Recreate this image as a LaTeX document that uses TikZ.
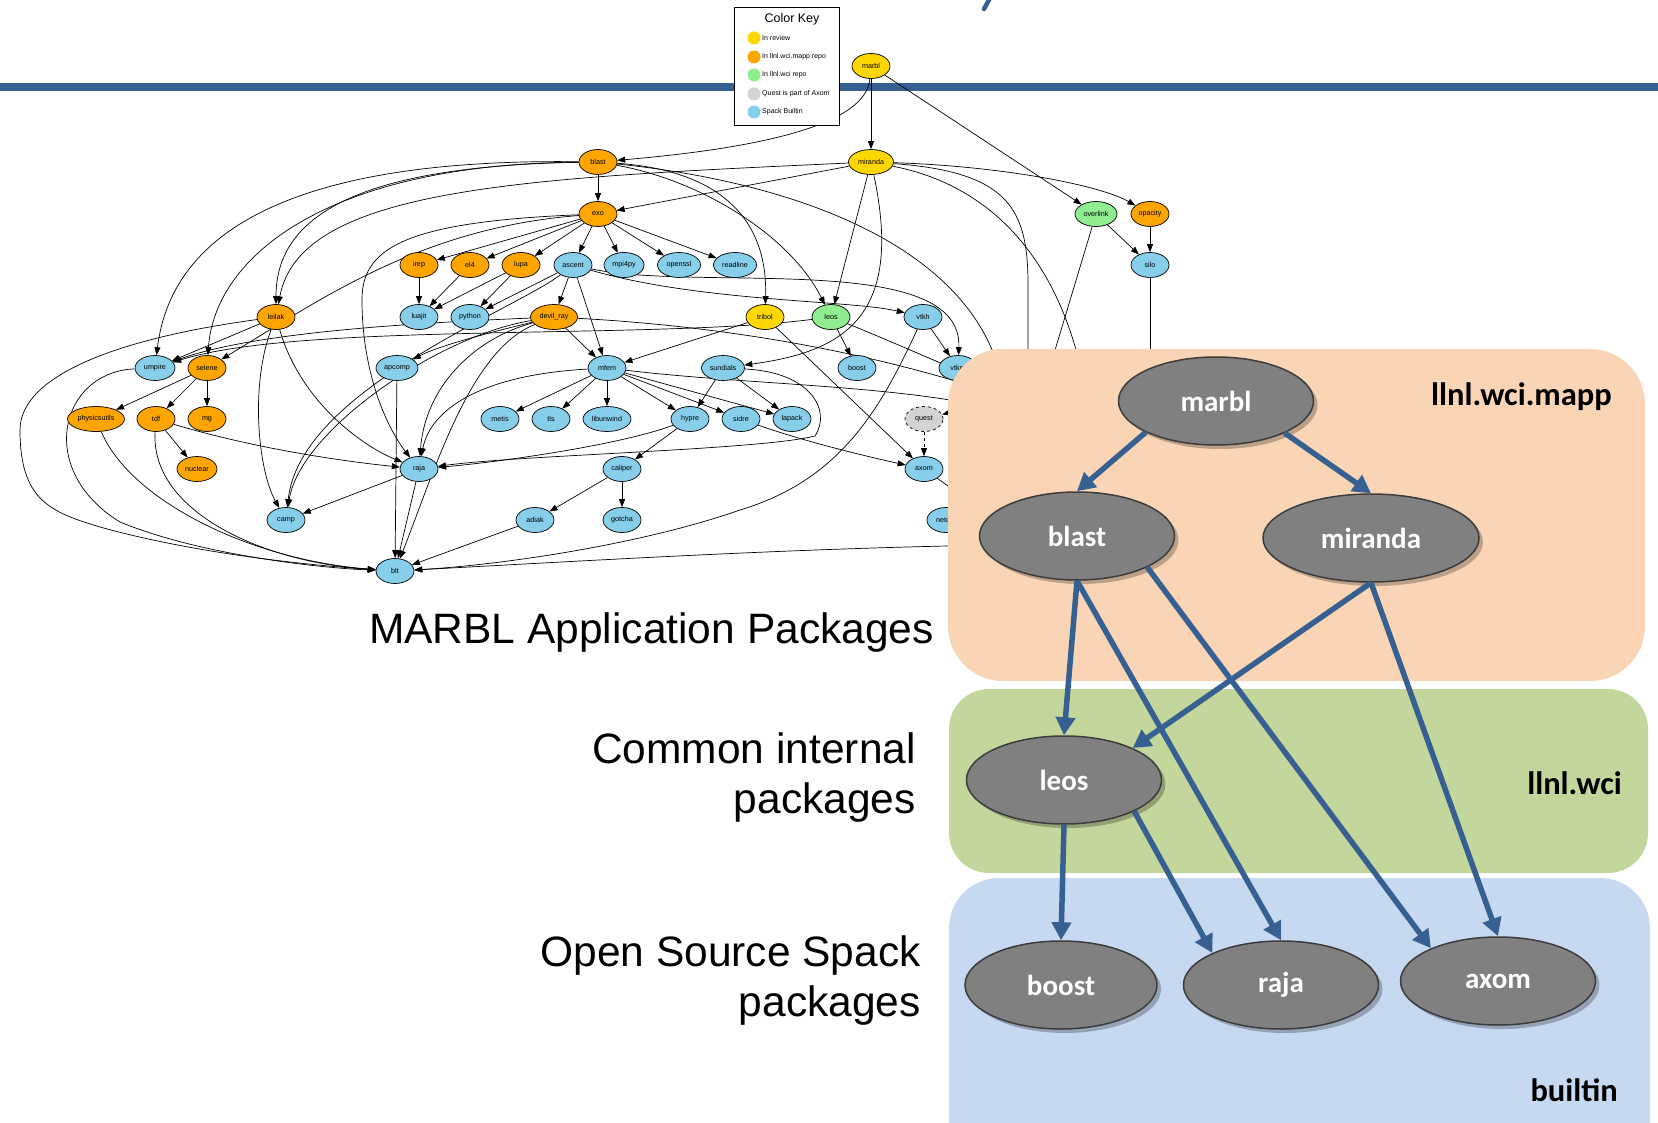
\documentclass[tikz,border=0pt]{standalone}
\usepackage{fontspec}
\setmainfont{Liberation Sans}
\newfontfamily\carl{Carlito}
\usetikzlibrary{shapes.geometric,arrows.meta,shadows}
\definecolor{gvgold}{RGB}{255,215,0}
\definecolor{gvorange}{RGB}{255,165,0}
\definecolor{gvgreen}{RGB}{144,238,144}
\definecolor{gvgray}{RGB}{211,211,211}
\definecolor{gvblue}{RGB}{135,206,235}
\definecolor{barblue}{RGB}{54,96,146}
\definecolor{peach}{RGB}{250,213,181}
\definecolor{sage}{RGB}{195,214,155}
\definecolor{paleblue}{RGB}{198,217,241}
\definecolor{bignode}{RGB}{128,128,128}
\definecolor{bigborder}{RGB}{60,60,60}
\pgfdeclarelayer{bg}
\pgfdeclarelayer{edges}
\pgfdeclarelayer{over}
\pgfsetlayers{bg,edges,main,over}
\begin{document}
\begin{tikzpicture}[x=1pt,y=-1pt,
  pkg/.style={ellipse,draw=black,line width=0.7pt,minimum width=38pt,minimum height=25pt,inner sep=0pt,font=\fontsize{7.2}{8}\selectfont},
  rev/.style={pkg,fill=gvgold},
  mapp/.style={pkg,fill=gvorange},
  wci/.style={pkg,fill=gvgreen},
  axq/.style={pkg,fill=gvgray,dashed},
  spk/.style={pkg,fill=gvblue},
  dep/.style={line width=0.7pt,-{Triangle[length=8pt,width=6pt]}},
  ln/.style={line width=0.7pt},
  keydot/.style={circle,minimum size=13pt,inner sep=0pt},
  keytxt/.style={anchor=west,inner sep=0pt,font=\fontsize{7}{8}\selectfont},
  big/.style={ellipse,draw=bigborder,line width=1.5pt,fill=bignode,minimum width=195pt,minimum height=88pt,inner sep=0pt,text=white,font=\carl\bfseries\fontsize{29}{30}\selectfont,drop shadow={shadow xshift=4pt,shadow yshift=-4pt,opacity=0.25,fill=black}},
  bigdep/.style={draw=barblue,line width=5.5pt,-{Triangle[length=18pt,width=19pt,fill=barblue]}},
  grp/.style={inner sep=0pt,font=\carl\bfseries\fontsize{32.5}{34}\selectfont},
  lab/.style={inner sep=0pt,align=right,font=\fontsize{42.5}{50}\selectfont}
]
\useasboundingbox (0,0) rectangle (1658,1123);
\begin{pgfonlayer}{bg}
\fill[white] (0,0) rectangle (1658,1123);
\fill[barblue] (0,83) rectangle (1658,91);
\draw[barblue,line width=4.5pt,line cap=round] (990,-2) -- (984,9);
\end{pgfonlayer}

% colour key
\node[draw=black,line width=0.8pt,fill=white,minimum width=105pt,minimum height=118pt,inner sep=0pt] (key) at (786.5,66) {};
\node[inner sep=0pt,font=\fontsize{12.5}{14}\selectfont] (keytitle) at (792,19) {Color Key};
\node[keydot,fill=gvgold] (k1) at (754,38) {};
\node[keydot,fill=gvorange] (k2) at (754,57) {};
\node[keydot,fill=gvgreen] (k3) at (754,75) {};
\node[keydot,fill=gvgray] (k4) at (754,94) {};
\node[keydot,fill=gvblue] (k5) at (754,112) {};
\node[keytxt] (t1) at (762,38) {In review};
\node[keytxt] (t2) at (762,57) {In llnl.wci.mapp repo};
\node[keytxt] (t3) at (762,75) {In llnl.wci repo};
\node[keytxt] (t4) at (762,94) {Quest is part of Axom};
\node[keytxt] (t5) at (762,112) {Spack Builtin};

% small graph nodes
\node[rev] (marbl) at (871,66) {marbl};
\node[mapp] (blast) at (598,162) {blast};
\node[rev,minimum width=45pt] (miranda) at (871,162) {miranda};
\node[mapp] (exo) at (598,214) {exo};
\node[wci,minimum width=42pt] (overlink) at (1096,214) {overlink};
\node[mapp] (opacity) at (1150,214) {opacity};
\node[mapp] (irep) at (419,265) {irep};
\node[mapp] (el4) at (470,265) {el4};
\node[mapp] (lupa) at (521,265) {lupa};
\node[spk] (ascent) at (573,265) {ascent};
\node[spk,minimum width=40pt] (mpi4py) at (624,265) {mpi4py};
\node[spk,minimum width=43pt] (openssl) at (679,265) {openssl};
\node[spk,minimum width=43pt] (readline) at (735,265) {readline};
\node[spk] (silo) at (1150,265) {silo};
\node[mapp] (leilak) at (276,317) {leilak};
\node[spk] (luajit) at (419,317) {luajit};
\node[spk] (python) at (470,317) {python};
\node[mapp,minimum width=47pt] (devilray) at (554,317) {devil\_ray};
\node[rev] (tribol) at (765,317) {tribol};
\node[wci] (leos) at (831,317) {leos};
\node[spk] (vtkh) at (923,317) {vtkh};
\node[spk,minimum width=40pt] (umpire) at (155,368) {umpire};
\node[mapp] (selene) at (207,368) {selene};
\node[spk,minimum width=42pt] (apcomp) at (397,368) {apcomp};
\node[spk] (mfem) at (607,368) {mfem};
\node[spk,minimum width=43pt] (sundials) at (723,368) {sundials};
\node[spk] (boost) at (857,368) {boost};
\node[spk] (vtkm) at (958,368) {vtkm};
\node[mapp,minimum width=57pt] (physicsutils) at (96,419) {physicsutils};
\node[mapp] (tdf) at (156,419) {tdf};
\node[mapp] (mg) at (207,419) {mg};
\node[spk] (metis) at (500,419) {metis};
\node[spk] (tls) at (551,419) {tls};
\node[spk,minimum width=48pt] (libunwind) at (607,419) {libunwind};
\node[spk] (hypre) at (690,419) {hypre};
\node[spk] (sidre) at (741,419) {sidre};
\node[spk] (lapack) at (792,419) {lapack};
\node[axq] (quest) at (924,419) {quest};
\node[mapp,minimum width=40pt] (nuclear) at (197,469) {nuclear};
\node[spk] (raja) at (419,469) {raja};
\node[spk] (caliper) at (622,469) {caliper};
\node[spk] (axom) at (924,469) {axom};
\node[spk] (camp) at (286,520) {camp};
\node[spk] (adiak) at (535,520) {adiak};
\node[spk] (gotcha) at (622,520) {gotcha};
\node[spk] (netcdf) at (946,520) {netcdf};
\node[spk] (blt) at (395,571) {blt};

\coordinate (h1) at (1034,420);
\coordinate (h2) at (1150,420);
\coordinate (h3) at (1028,430);
\coordinate (h4) at (1090,420);
\coordinate (h5) at (1005,400);
\coordinate (h6) at (1005,390);
\coordinate (h7) at (1000,545);
\coordinate (h8) at (975,505);
\coordinate (h9) at (980,405);
\coordinate (h10) at (1000,395);
\coordinate (h11) at (1000,410);

\begin{pgfonlayer}{edges}
% marbl
\draw[dep] (marbl) .. controls (866,125) and (760,148) .. (blast);
\draw[dep] (marbl) -- (miranda);
\draw[dep] (marbl) -- (overlink);
% blast
\draw[dep] (blast) -- (exo);
\draw[dep] (blast) .. controls (360,166) and (276,215) .. (leilak);
\draw[dep] (blast) .. controls (300,158) and (172,228) .. (umpire);
\draw[dep] (blast) .. controls (330,164) and (215,255) .. (selene);
\draw[dep] (blast) .. controls (700,180) and (790,235) .. (leos);
\draw[dep] (blast) .. controls (715,170) and (768,215) .. (tribol);
\draw[ln] (blast) .. controls (820,185) and (990,260) .. (h5);
% miranda
\draw[dep] (miranda) -- (exo);
\draw[dep] (miranda) .. controls (520,178) and (300,188) .. (leilak);
\draw[dep] (miranda) -- (leos);
\draw[dep] (miranda) .. controls (905,320) and (840,352) .. (sundials);
\draw[dep] (miranda) .. controls (1000,166) and (1100,185) .. (opacity);
\draw[ln] (miranda) .. controls (1010,172) and (1028,210) .. (1028,285) -- (h3);
\draw[ln] (miranda) .. controls (990,185) and (1070,260) .. (h4);
% overlink, opacity
\draw[dep] (overlink) -- (silo);
\draw[dep] (opacity) -- (silo);
\draw[ln] (overlink) -- (h1);
\draw[ln] (silo) -- (h2);
% exo
\draw[dep] (exo) -- (irep);
\draw[dep] (exo) -- (el4);
\draw[dep] (exo) -- (lupa);
\draw[dep] (exo) -- (ascent);
\draw[dep] (exo) -- (mpi4py);
\draw[dep] (exo) -- (openssl);
\draw[dep] (exo) -- (readline);
\draw[dep] (exo) .. controls (420,228) and (320,300) .. (selene);
\draw[dep] (exo) .. controls (400,222) and (362,250) .. (362,300) .. controls (362,370) and (385,425) .. (raja);
% third row
\draw[dep] (irep) -- (luajit);
\draw[dep] (el4) -- (luajit);
\draw[dep] (lupa) -- (luajit);
\draw[dep] (lupa) -- (python);
\draw[dep] (ascent) -- (python);
\draw[dep] (ascent) -- (devilray);
\draw[dep] (ascent) -- (mfem);
\draw[dep] (ascent) .. controls (700,292) and (963,250) .. (vtkm);
\draw[dep] (ascent) .. controls (700,302) and (850,300) .. (vtkh);
\draw[dep] (ascent) .. controls (515,310) and (300,390) .. (camp);
% devil_ray
\draw[dep] (devilray) -- (mfem);
\draw[dep] (devilray) .. controls (500,330) and (440,345) .. (apcomp);
\draw[dep] (devilray) .. controls (470,340) and (425,390) .. (raja);
\draw[dep] (devilray) .. controls (440,335) and (300,430) .. (camp);
\draw[dep] (devilray) .. controls (470,350) and (435,470) .. (blt);
\draw[dep] (devilray) .. controls (440,322) and (260,330) .. (umpire);
\draw[ln] (devilray) .. controls (700,325) and (850,345) .. (h10);
% tribol, leos, vtkh
\draw[dep] (tribol) -- (mfem);
\draw[dep] (tribol) -- (axom);
\draw[dep] (leos) -- (boost);
\draw[dep] (leos) .. controls (650,340) and (300,322) .. (umpire);
\draw[ln] (leos) .. controls (900,345) and (960,372) .. (h6);
\draw[dep] (vtkh) -- (vtkm);
\draw[dep] (vtkh) .. controls (880,410) and (840,480) .. (740,510) .. controls (640,545) and (500,565) .. (blt);
% leilak
\draw[dep] (leilak) -- (umpire);
\draw[dep] (leilak) .. controls (250,385) and (258,470) .. (camp);
\draw[dep] (leilak) .. controls (300,400) and (360,445) .. (raja);
\draw[dep] (leilak) .. controls (120,338) and (20,375) .. (20,430) .. controls (20,500) and (50,512) .. (100,527) .. controls (200,555) and (320,566) .. (blt);
% umpire, selene, tdf
\draw[dep] (umpire) .. controls (60,372) and (35,470) .. (120,522) .. controls (200,555) and (320,568) .. (blt);
\draw[dep] (selene) -- (physicsutils);
\draw[dep] (selene) -- (tdf);
\draw[dep] (selene) -- (mg);
\draw[dep] (physicsutils) .. controls (130,500) and (250,560) .. (blt);
\draw[dep] (tdf) .. controls (150,510) and (260,562) .. (blt);
\draw[dep] (tdf) -- (nuclear);
\draw[dep] (tdf) .. controls (260,450) and (350,462) .. (raja);
\draw[dep] (apcomp) -- (blt);
% mfem
\draw[dep] (mfem) -- (metis);
\draw[dep] (mfem) -- (tls);
\draw[dep] (mfem) -- (libunwind);
\draw[dep] (mfem) -- (hypre);
\draw[dep] (mfem) -- (sidre);
\draw[dep] (mfem) -- (lapack);
\draw[dep] (mfem) .. controls (480,375) and (430,410) .. (raja);
\draw[ln] (mfem) .. controls (750,385) and (900,385) .. (h11);
% sundials, hypre, caliper
\draw[dep] (sundials) -- (hypre);
\draw[dep] (sundials) -- (lapack);
\draw[dep] (sundials) .. controls (810,372) and (832,410) .. (815,436) .. controls (760,450) and (520,455) .. (raja);
\draw[dep] (hypre) -- (caliper);
\draw[dep] (hypre) .. controls (620,445) and (500,462) .. (raja);
\draw[dep] (caliper) -- (adiak);
\draw[dep] (caliper) -- (gotcha);
\draw[dep] (adiak) -- (blt);
\draw[dep] (sidre) .. controls (800,440) and (860,455) .. (axom);
\draw[dep,dashed] (quest) -- (axom);
\draw[dep] (h9) -- (quest);
\draw[ln] (axom) -- (h8);
\draw[dep] (raja) -- (camp);
\draw[dep] (raja) -- (blt);
\draw[dep] (h7) .. controls (800,548) and (600,560) .. (blt);
\end{pgfonlayer}

% overlay
\begin{pgfonlayer}{over}
\fill[peach,rounded corners=55pt] (948,349) rectangle (1645,681);
\fill[sage,rounded corners=40pt] (949,689) rectangle (1648,873);
\fill[paleblue,rounded corners=50pt] (949,878) rectangle (1650,1180);
\node[grp,anchor=east] (lmapp) at (1612,397) {llnl.wci.mapp};
\node[grp,anchor=east] (lwci) at (1622,783) {llnl.wci};
\node[grp,anchor=east] (lbuiltin) at (1618,1090) {builtin};
\node[big] (Bmarbl) at (1216,401) {marbl};
\node[big] (Bblast) at (1077,536) {blast};
\node[big,minimum width=216pt] (Bmiranda) at (1371,538) {miranda};
\node[big] (Bleos) at (1064,780) {leos};
\node[big,minimum width=192pt] (Bboost) at (1061,985) {boost};
\node[big] (Braja) at (1281,985) {raja};
\node[big] (Baxom) at (1498,981) {axom};
\draw[bigdep] (Bmarbl.-156) -- (Bblast.north);
\draw[bigdep] (Bmarbl.-25) -- (Bmiranda.north);
\draw[bigdep] (Bblast.south) -- (Bleos.north);
\draw[bigdep] (Bblast.south) -- (Braja.north);
\draw[bigdep] (Bblast.-24) -- (Baxom.154);
\draw[bigdep] (Bmiranda.south) -- (Bleos.25);
\draw[bigdep] (Bmiranda.south) -- (Baxom.north);
\draw[bigdep] (Bleos.south) -- (Bboost.north);
\draw[bigdep] (Bleos.-24) -- (Braja.155);
\end{pgfonlayer}
\node[lab,anchor=east] (tMarbl) at (934,633) {MARBL Application Packages};
\node[lab,anchor=east] (tCommon) at (916,778) {Common internal\\packages};
\node[lab,anchor=east] (tOpen) at (921,981) {Open Source Spack\\packages};
\end{tikzpicture}
\end{document}
